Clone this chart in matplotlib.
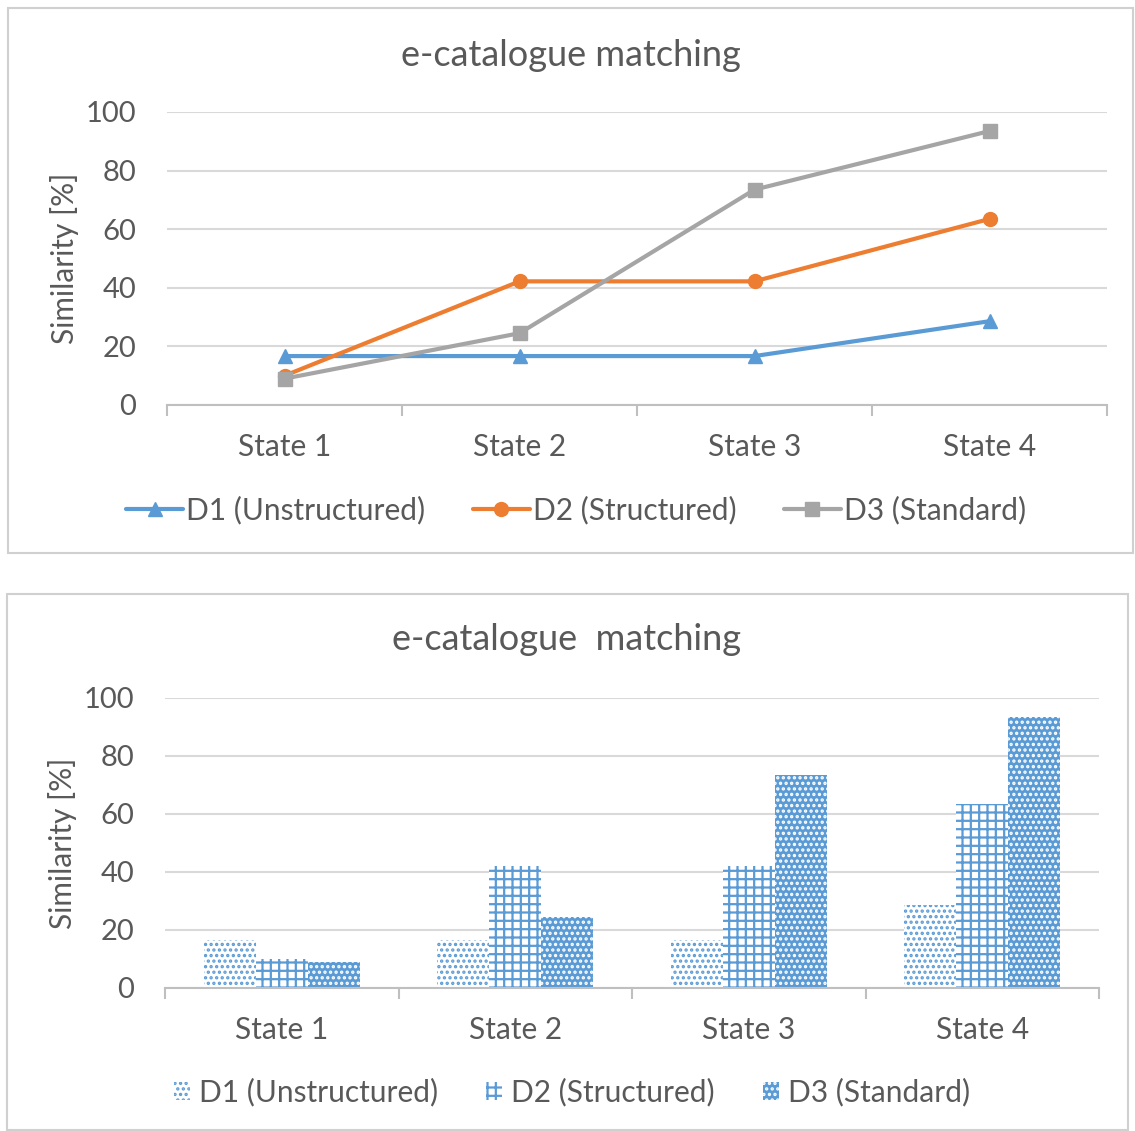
import matplotlib
matplotlib.use("Agg")
import matplotlib.pyplot as plt
from matplotlib.patches import Rectangle
import numpy as np

states = ["State 1", "State 2", "State 3", "State 4"]
series_names = ["D1 (Unstructured)", "D2 (Structured)", "D3 (Standard)"]
d1_unstructured = [16.7, 16.7, 16.7, 28.6]
d2_structured = [10.0, 42.2, 42.2, 63.5]
d3_standard = [9.0, 24.5, 73.5, 93.5]
y_ticks = [0, 20, 40, 60, 80, 100]

line_colors = ["#5B9BD5", "#ED7D31", "#A5A5A5"]
line_markers = ["^", "o", "s"]
bar_blue = "#5B9BD5"
text_gray = "#595959"
grid_gray = "#D9D9D9"

plt.rcParams["font.family"] = ["Lato", "DejaVu Sans"]
plt.rcParams["hatch.linewidth"] = 1.6

fig = plt.figure(figsize=(11.35, 11.31), dpi=100)
W, H = 1135, 1131

def fx(px):
    return px / W

def fy(py):
    return 1 - py / H

# panel frames
for (x0, y0, x1, y1) in [(8, 8, 1133, 553), (7, 594, 1128, 1130)]:
    fig.patches.append(Rectangle((fx(x0), fy(y1)), fx(x1) - fx(x0), fy(y0) - fy(y1),
                                 transform=fig.transFigure, fill=False,
                                 edgecolor="#D0D0D0", linewidth=1.5))

def style_axes(ax):
    ax.set_ylim(0, 100)
    ax.set_xlim(-0.5, 3.5)
    ax.set_yticks(y_ticks)
    ax.yaxis.grid(True, color=grid_gray, linewidth=1.5)
    ax.set_axisbelow(True)
    for s in ["top", "right", "left"]:
        ax.spines[s].set_visible(False)
    ax.spines["bottom"].set_color("#BFBFBF")
    ax.spines["bottom"].set_linewidth(1.5)
    ax.set_xticks(range(len(states)))
    ax.set_xticklabels(states)
    ax.set_xticks(np.arange(-0.5, len(states), 1.0), minor=True)
    ax.tick_params(axis="x", which="major", length=0, pad=20, labelsize=21.5, labelcolor=text_gray)
    ax.tick_params(axis="x", which="minor", length=8, width=1.5, color="#BFBFBF")
    ax.tick_params(axis="y", length=0, pad=22, labelsize=21, labelcolor=text_gray)
    ax.set_ylabel("Similarity [%]", fontsize=21.5, color=text_gray, labelpad=5)

x = np.arange(len(states))
data = [d1_unstructured, d2_structured, d3_standard]

# line chart
ax1 = fig.add_axes([fx(167), fy(405), fx(1107) - fx(167), fy(112) - fy(405)])
style_axes(ax1)
handles = []
for vals, c, m, name in zip(data, line_colors, line_markers, series_names):
    h, = ax1.plot(x, vals, color=c, linewidth=3, marker=m, markersize=10,
                  label=name, solid_capstyle="round", clip_on=False)
    handles.append(h)
fig.text(fx(571), fy(55), "e-catalogue matching", ha="center", va="center",
         fontsize=26, color=text_gray)
fig.legend(handles=handles, loc="center", bbox_to_anchor=(fx(576), fy(510)), ncol=3,
           frameon=False, fontsize=21.5, labelcolor=text_gray, handlelength=1.9,
           handletextpad=0.1, columnspacing=1.6)

# bar chart
ax2 = fig.add_axes([fx(165), fy(988), fx(1099) - fx(165), fy(698) - fy(988)])
style_axes(ax2)
bw = 0.223
bar_styles = [
    dict(facecolor="white", edgecolor=bar_blue, hatch="..."),
    dict(facecolor="white", edgecolor=bar_blue, hatch="++"),
    dict(facecolor=bar_blue, edgecolor="white", hatch="..."),
]
bar_handles = []
for i, (vals, st, name) in enumerate(zip(data, bar_styles, series_names)):
    bc = ax2.bar(x + (i - 1) * bw, vals, width=bw, linewidth=0, label=name, **st)
    bar_handles.append(bc)
fig.text(fx(567), fy(640), "e-catalogue  matching", ha="center", va="center",
         fontsize=26, color=text_gray)
fig.legend(handles=bar_handles, loc="center", bbox_to_anchor=(fx(572), fy(1092)), ncol=3,
           frameon=False, fontsize=21.5, labelcolor=text_gray, handlelength=0.55,
           handleheight=0.55, handletextpad=0.3, columnspacing=1.6)

fig.savefig("out.png", dpi=100, facecolor="white")
